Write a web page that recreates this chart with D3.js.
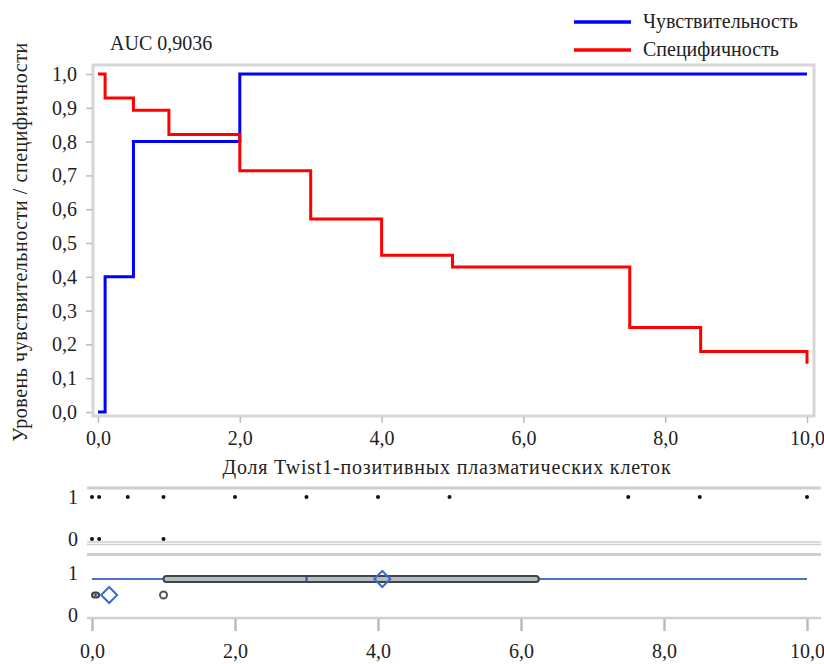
<!DOCTYPE html>
<html><head><meta charset="utf-8">
<script src="https://cdn.jsdelivr.net/npm/d3@7"></script>
</head><body style="margin:0">
<svg id="c" width="824" height="664" font-family="Liberation Serif" style="display:block"></svg>
<script>
// ---- data ----
const sensX = [0, 0.1, 0.5, 2.0, 10];
const sensY = [0, 0.4, 0.8, 1.0, 1.0];
const specX = [0, 0.1, 0.5, 1.0, 2.0, 3.0, 4.0, 5.0, 7.5, 8.5, 10];
const specY = [1.0, 0.929, 0.893, 0.821, 0.714, 0.571, 0.464, 0.429, 0.25, 0.179, 0.143];
const xTicks = [0, 2, 4, 6, 8, 10];
const yTicks = [0, 0.1, 0.2, 0.3, 0.4, 0.5, 0.6, 0.7, 0.8, 0.9, 1.0];
const aucLabel = "AUC 0,9036";
const seriesNames = ["Чувствительность", "Специфичность"];
const seriesColors = ["#0000ff", "#ff0000"];
const xTitle = "Доля Twist1-позитивных плазматических клеток";
const yTitle = "Уровень чувствительности / специфичности";
const dots1 = [0, 0.1, 0.5, 1, 2, 3, 4, 5, 7.5, 8.5, 10];
const dots0 = [0, 0.1, 1];
// box stats: [min, q1, median, q3, max, mean]
const box1 = [0, 1.0, 3.0, 6.25, 10, 4.06];
const box0 = [0, 0, 0.05, 0.1, 0.1, 0.24];
const outliers0 = [1.0];

const FF = "Liberation Serif";
const FS = 20;
const fmt = d => d3.format(".1f")(d).replace(".", ",");
const svg = d3.select("#c");
const txt = sel => sel.attr("font-family", FF).attr("font-size", FS).attr("fill", "#222");

// ---- main plot ----
const x = d3.scaleLinear().domain([0, 10]).range([98, 807]);
const y = d3.scaleLinear().domain([0, 1]).range([412, 74]);
const frame = {l: 93, t: 65, r: 814, b: 416};

svg.append("rect").attr("x", frame.l).attr("y", frame.t)
  .attr("width", frame.r - frame.l).attr("height", frame.b - frame.t)
  .attr("fill", "#fff").attr("stroke", "#d6d6d6").attr("stroke-width", 3);

const yAx = svg.append("g").attr("transform", `translate(${frame.l - 1},0)`)
  .call(d3.axisLeft(y).tickValues(yTicks).tickFormat(fmt).tickSize(6).tickPadding(9));
yAx.attr("font-family", FF).attr("font-size", FS);
yAx.select(".domain").remove();
yAx.selectAll("line").attr("stroke", "#bbb").attr("stroke-width", 1.5);
txt(yAx.selectAll("text"));

const xAx = svg.append("g").attr("transform", `translate(0,${frame.b + 1})`)
  .call(d3.axisBottom(x).tickValues(xTicks).tickFormat(fmt).tickSize(6).tickPadding(8));
xAx.attr("font-family", FF).attr("font-size", FS);
xAx.select(".domain").remove();
xAx.selectAll("line").attr("stroke", "#bbb").attr("stroke-width", 1.5);
txt(xAx.selectAll("text"));

const line = d3.line().x(d => x(d[0])).y(d => y(d[1])).curve(d3.curveStepAfter);
svg.append("path").datum(d3.zip(sensX, sensY)).attr("d", line)
  .attr("fill", "none").attr("stroke", seriesColors[0]).attr("stroke-width", 3);
svg.append("path").datum(d3.zip(specX, specY)).attr("d", line)
  .attr("fill", "none").attr("stroke", seriesColors[1]).attr("stroke-width", 3);

txt(svg.append("text").attr("x", 110).attr("y", 50).text(aucLabel));

// legend
seriesNames.forEach((n, i) => {
  const ly = 22 + i * 28;
  svg.append("line").attr("x1", 574).attr("x2", 631).attr("y1", ly).attr("y2", ly)
    .attr("stroke", seriesColors[i]).attr("stroke-width", 3.5);
  txt(svg.append("text").attr("x", 643).attr("y", ly + 6).text(n));
});

txt(svg.append("text").attr("x", 447).attr("y", 474).attr("text-anchor", "middle")
  .attr("letter-spacing", 0.8).text(xTitle));
txt(svg.append("text").attr("transform", "translate(27,242) rotate(-90)")
  .attr("text-anchor", "middle").attr("letter-spacing", 0.55).text(yTitle));

// ---- bottom panels ----
const xb = d3.scaleLinear().domain([0, 10]).range([92, 807]);
const hl = (yy, w, c) => svg.append("line").attr("x1", 87).attr("x2", 821)
  .attr("y1", yy).attr("y2", yy).attr("stroke", c || "#cfcfcf").attr("stroke-width", w || 2);
hl(488, 3); hl(542, 1.5); hl(544.5, 1.5); hl(554.5, 3); hl(618, 2.5);

const yDot = {1: 497, 0: 539};
[["1", 497], ["0", 539]].forEach(([t, yy]) => txt(svg.append("text").attr("x", 78).attr("y", yy + 7)
  .attr("text-anchor", "end").text(t)));
svg.selectAll(".d1").data(dots1).join("circle").attr("cx", d => xb(d)).attr("cy", yDot[1])
  .attr("r", 2).attr("fill", "#111");
svg.selectAll(".d0").data(dots0).join("circle").attr("cx", d => xb(d)).attr("cy", yDot[0])
  .attr("r", 2).attr("fill", "#111");

[["1", 573], ["0", 615]].forEach(([t, yy]) => txt(svg.append("text").attr("x", 78).attr("y", yy + 7)
  .attr("text-anchor", "end").text(t)));

function boxplot(b, cy, h) {
  svg.append("line").attr("x1", xb(b[0])).attr("x2", xb(b[4])).attr("y1", cy).attr("y2", cy)
    .attr("stroke", "#4a72c8").attr("stroke-width", 2);
  svg.append("rect").attr("x", xb(b[1])).attr("y", cy - h / 2)
    .attr("width", Math.max(xb(b[3]) - xb(b[1]), 1)).attr("height", h)
    .attr("rx", h / 2).attr("fill", "#b4bcc4").attr("stroke", "#444").attr("stroke-width", 2);
  svg.append("line").attr("x1", xb(b[2])).attr("x2", xb(b[2]))
    .attr("y1", cy - h / 2 + 1).attr("y2", cy + h / 2 - 1).attr("stroke", "#2050c0").attr("stroke-width", 2);
  const mx = xb(b[5]);
  svg.append("path").attr("d", `M${mx - 8},${cy}L${mx},${cy - 8}L${mx + 8},${cy}L${mx},${cy + 8}Z`)
    .attr("fill", "none").attr("stroke", "#3a6ad0").attr("stroke-width", 2);
}
boxplot(box1, 579, 6);
boxplot(box0, 595, 5);
svg.selectAll(".o0").data(outliers0).join("circle").attr("cx", d => xb(d)).attr("cy", 595)
  .attr("r", 3.5).attr("fill", "#fff").attr("stroke", "#555").attr("stroke-width", 2);

const bAx = svg.append("g").attr("transform", "translate(0,619)")
  .call(d3.axisBottom(xb).tickValues(xTicks).tickFormat(fmt).tickSize(12).tickPadding(13));
bAx.attr("font-family", FF).attr("font-size", FS);
bAx.select(".domain").remove();
bAx.selectAll("line").attr("stroke", "#bbb").attr("stroke-width", 2.5);
txt(bAx.selectAll("text"));
</script></body></html>
